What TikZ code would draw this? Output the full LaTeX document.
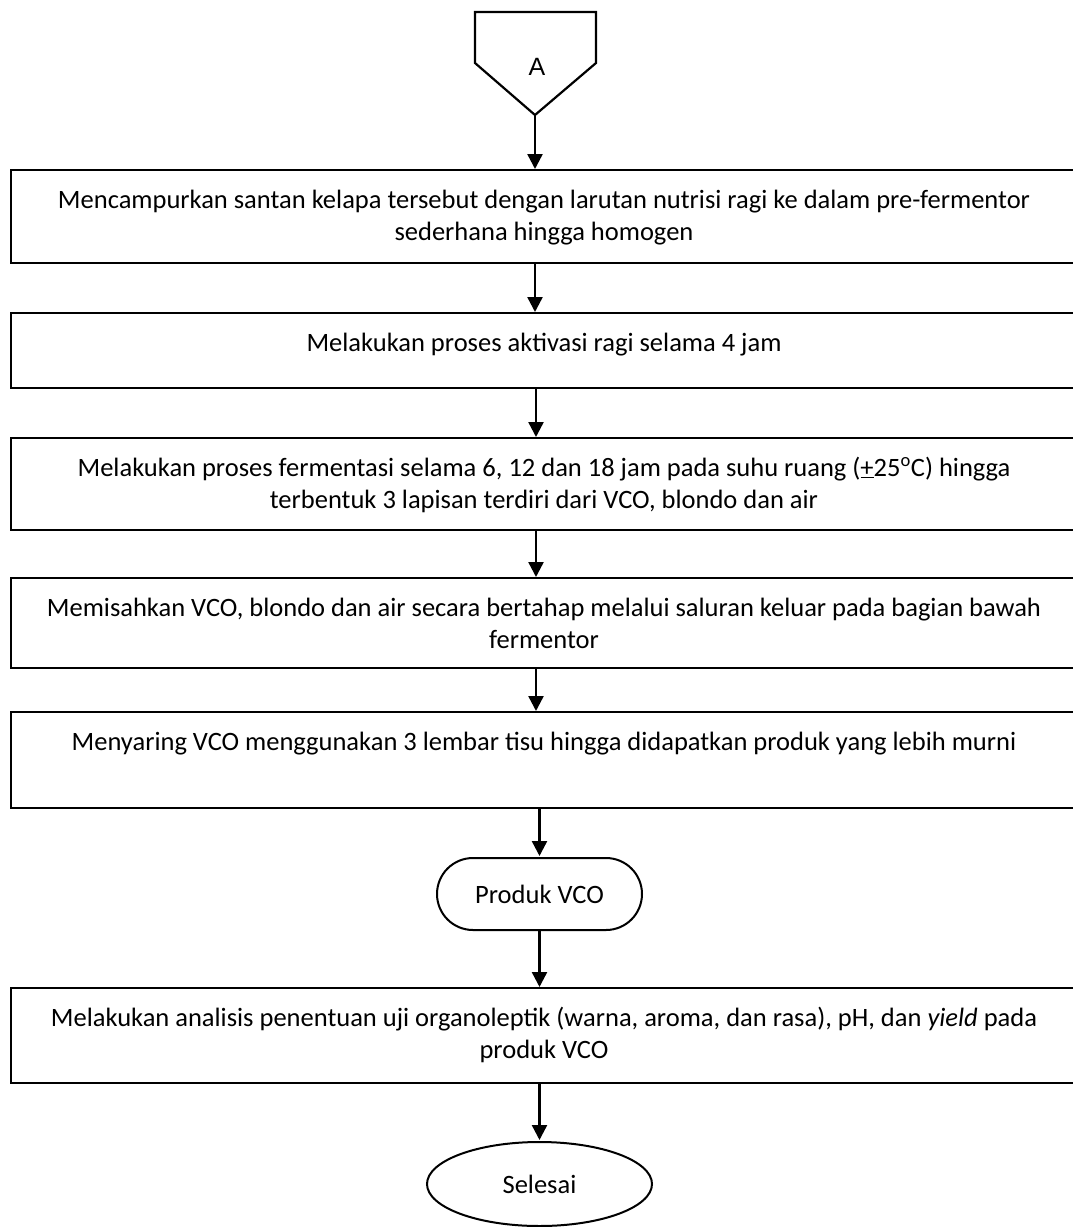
\documentclass[tikz,border=0pt]{standalone}
\usepackage{fontspec}
\setmainfont{Carlito}
\newfontfamily\afont{Liberation Sans}
\usetikzlibrary{arrows.meta,shapes.misc,shapes.geometric}
\newcommand{\bxt}[2]{\parbox[c][#1pt][t]{1066pt}{\centering\rule{0pt}{38pt}#2}}
\tikzset{
  procbox/.style={draw, line width=2.6pt, inner sep=0pt, outer sep=0pt, anchor=north},
  arr/.style={line width=2.4pt, -{Triangle[width=15pt,length=15pt]}, shorten >=1pt},
  term/.style={draw, line width=2pt, inner sep=0pt, font=\fontsize{26.5}{30}\selectfont}
}
\begin{document}
\begin{tikzpicture}[x=1pt,y=-1pt, every node/.style={font=\fontsize{26.5}{32}\selectfont}]
\clip (0,0) rectangle (1073,1227);
\fill[white] (0,0) rectangle (1073,1227);
% off-page connector
\draw[line width=2.2pt, line join=miter] (475,12) -- (596,12) -- (596,63) -- (535,115) -- (475,63) -- cycle;
\node[font=\afont\fontsize{25}{30}\selectfont] (A) at (537,67) {A};
\coordinate (Atip) at (535,115);
% process boxes
\node[procbox] (b1) at (544,170) {\bxt{93}{Mencampurkan santan kelapa tersebut dengan larutan nutrisi ragi ke dalam pre-fermentor\\ sederhana hingga homogen}};
\node[procbox] (b2) at (544,313) {\bxt{75}{Melakukan proses aktivasi ragi selama 4 jam}};
\node[procbox] (b3) at (544,438) {\bxt{92}{Melakukan proses fermentasi selama 6, 12 dan 18 jam pada suhu ruang (\underline{+}25\textsuperscript{o}C) hingga\\ terbentuk 3 lapisan terdiri dari VCO, blondo dan air}};
\node[procbox] (b4) at (544,578) {\bxt{90}{Memisahkan VCO, blondo dan air secara bertahap melalui saluran keluar pada bagian bawah\\ fermentor}};
\node[procbox] (b5) at (544,712) {\bxt{96}{Menyaring VCO menggunakan 3 lembar tisu hingga didapatkan produk yang lebih murni}};
\node[term, rounded rectangle, minimum width=205pt, minimum height=72pt] (vco) at (539.5,894) {Produk VCO};
\node[procbox] (b6) at (544,988) {\bxt{95}{Melakukan analisis penentuan uji organoleptik (warna, aroma, dan rasa), pH, dan \textit{yield} pada\\ produk VCO}};
\node[term, ellipse, minimum width=225pt, minimum height=84pt] (end) at (539.5,1184) {Selesai};
% connectors
\draw[arr] (Atip) -- (b1.north -| Atip);
\draw[arr] (b1.south -| Atip) -- (b2.north -| Atip);
\draw[arr] ([xshift=1pt]b2.south -| Atip) -- ([xshift=1pt]b3.north -| Atip);
\draw[arr] ([xshift=1pt]b3.south -| Atip) -- ([xshift=1pt]b4.north -| Atip);
\draw[arr] ([xshift=1pt]b4.south -| Atip) -- ([xshift=1pt]b5.north -| Atip);
\draw[arr] (b5.south -| vco) -- (vco.north);
\draw[arr] (vco.south) -- (b6.north -| vco);
\draw[arr] (b6.south -| vco) -- (end.north);
\end{tikzpicture}
\end{document}
